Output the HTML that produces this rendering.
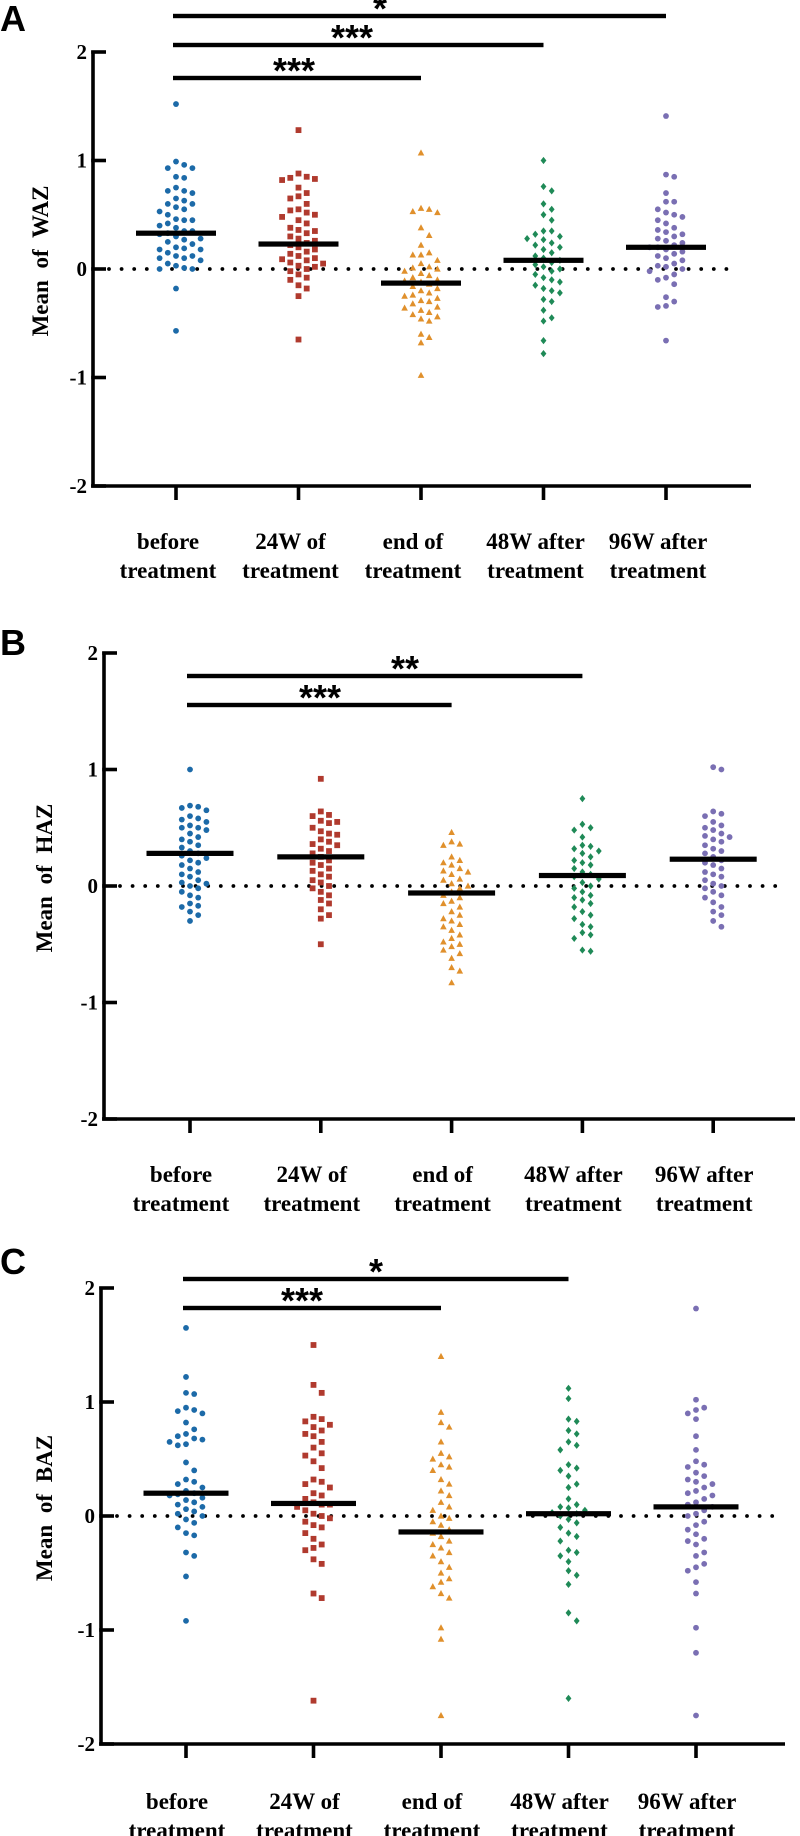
<!DOCTYPE html>
<html><head><meta charset="utf-8"><style>
html,body{margin:0;padding:0;background:#fff;}
svg{display:block;}
.tk{font-family:"Liberation Serif",serif;font-weight:bold;font-size:21px;}
.lbl{font-family:"Liberation Serif",serif;font-weight:bold;font-size:23px;}
.ttl{font-family:"Liberation Serif",serif;font-weight:bold;font-size:23px;word-spacing:6px;}
.pl{font-family:"Liberation Sans",sans-serif;font-weight:bold;font-size:36px;}
.st{font-family:"Liberation Sans",sans-serif;font-weight:bold;font-size:36px;}
</style></head><body>
<svg id="chart" width="800" height="1836" viewBox="0 0 800 1836" xmlns="http://www.w3.org/2000/svg"></svg>
<script>
const categories = ["before|treatment","24W of|treatment","end of|treatment","48W after|treatment","96W after|treatment"];
const yTicks = [2,1,0,-1,-2];
// Panel A: WAZ
const wazBefore = [1.52,0.99,0.96,0.93,0.93,0.85,0.84,0.75,0.72,0.72,0.70,0.65,0.63,0.60,0.60,0.57,0.55,0.53,0.50,0.46,0.45,0.45,0.42,0.40,0.38,0.35,0.35,0.33,0.32,0.30,0.28,0.27,0.25,0.23,0.20,0.19,0.18,0.18,0.15,0.12,0.12,0.10,0.10,0.08,0.05,0.03,0.01,0.0,0.0,-0.18,-0.57];
const waz24W = [1.28,0.88,0.85,0.84,0.83,0.82,0.75,0.70,0.67,0.65,0.60,0.55,0.54,0.52,0.50,0.48,0.45,0.42,0.38,0.36,0.35,0.33,0.30,0.28,0.26,0.24,0.22,0.20,0.18,0.16,0.14,0.12,0.10,0.09,0.08,0.06,0.05,0.03,0.02,0.0,-0.02,-0.05,-0.08,-0.10,-0.15,-0.18,-0.25,-0.65];
const wazEnd = [1.07,0.56,0.55,0.53,0.52,0.38,0.31,0.22,0.15,0.13,0.13,0.08,0.05,0.02,0.01,0.0,-0.02,-0.04,-0.06,-0.08,-0.10,-0.11,-0.12,-0.14,-0.16,-0.18,-0.20,-0.22,-0.24,-0.25,-0.27,-0.29,-0.30,-0.32,-0.35,-0.36,-0.38,-0.40,-0.42,-0.44,-0.46,-0.48,-0.60,-0.63,-0.68,-0.98];
const waz48W = [1.0,0.76,0.72,0.60,0.55,0.50,0.45,0.35,0.35,0.32,0.30,0.28,0.27,0.24,0.22,0.20,0.18,0.15,0.12,0.10,0.08,0.06,0.04,0.02,0.0,-0.02,-0.05,-0.08,-0.10,-0.12,-0.15,-0.18,-0.20,-0.22,-0.28,-0.30,-0.38,-0.45,-0.48,-0.66,-0.78];
const waz96W = [1.41,0.87,0.85,0.70,0.62,0.62,0.55,0.52,0.50,0.48,0.45,0.42,0.38,0.36,0.34,0.32,0.30,0.28,0.26,0.24,0.22,0.20,0.20,0.18,0.16,0.14,0.12,0.10,0.08,0.05,0.03,0.02,0.0,-0.02,-0.05,-0.08,-0.10,-0.14,-0.26,-0.30,-0.35,-0.34,-0.66];
const wazMeans = [0.33,0.23,-0.13,0.08,0.20];
// Panel B: HAZ
const hazBefore = [1.0,0.69,0.68,0.67,0.65,0.60,0.58,0.57,0.55,0.52,0.50,0.50,0.48,0.45,0.42,0.40,0.38,0.35,0.33,0.30,0.28,0.26,0.24,0.22,0.20,0.18,0.15,0.12,0.10,0.08,0.05,0.03,0.02,0.0,-0.02,-0.05,-0.08,-0.10,-0.15,-0.17,-0.18,-0.22,-0.25,-0.30];
const haz24W = [0.92,0.64,0.61,0.60,0.56,0.55,0.54,0.50,0.47,0.45,0.44,0.40,0.38,0.36,0.35,0.32,0.30,0.28,0.25,0.22,0.20,0.18,0.15,0.13,0.10,0.08,0.05,0.03,0.0,-0.02,-0.05,-0.08,-0.12,-0.15,-0.20,-0.25,-0.28,-0.50];
const hazEnd = [0.46,0.38,0.36,0.35,0.25,0.22,0.20,0.18,0.15,0.13,0.12,0.10,0.06,0.05,0.02,0.0,-0.02,-0.05,-0.08,-0.10,-0.13,-0.15,-0.18,-0.22,-0.25,-0.28,-0.30,-0.33,-0.35,-0.38,-0.42,-0.45,-0.48,-0.50,-0.52,-0.55,-0.58,-0.62,-0.70,-0.73,-0.83];
const haz48W = [0.75,0.53,0.50,0.48,0.42,0.35,0.34,0.32,0.30,0.28,0.25,0.22,0.20,0.18,0.15,0.12,0.10,0.08,0.06,0.03,0.0,-0.02,-0.05,-0.08,-0.10,-0.12,-0.15,-0.18,-0.22,-0.25,-0.28,-0.33,-0.35,-0.40,-0.42,-0.45,-0.55,-0.56];
const haz96W = [1.02,1.0,0.64,0.62,0.60,0.55,0.52,0.50,0.48,0.45,0.43,0.42,0.40,0.38,0.35,0.32,0.30,0.28,0.25,0.22,0.20,0.18,0.15,0.12,0.10,0.08,0.05,0.02,0.0,-0.02,-0.05,-0.08,-0.10,-0.14,-0.18,-0.22,-0.25,-0.30,-0.35];
const hazMeans = [0.28,0.25,-0.06,0.09,0.23];
// Panel C: BAZ
const bazBefore = [1.65,1.22,1.08,1.07,0.95,0.93,0.92,0.90,0.82,0.76,0.72,0.70,0.68,0.67,0.65,0.63,0.62,0.47,0.40,0.32,0.30,0.28,0.25,0.22,0.20,0.19,0.18,0.16,0.14,0.12,0.10,0.08,0.06,0.04,0.02,0.0,-0.03,-0.06,-0.10,-0.15,-0.17,-0.35,-0.32,-0.53,-0.92];
const baz24W = [1.5,1.15,1.08,0.87,0.85,0.83,0.80,0.78,0.75,0.72,0.70,0.65,0.60,0.55,0.53,0.48,0.42,0.32,0.30,0.28,0.25,0.20,0.18,0.15,0.12,0.10,0.10,0.08,0.05,0.02,0.0,-0.02,-0.05,-0.08,-0.10,-0.15,-0.20,-0.25,-0.28,-0.30,-0.38,-0.42,-0.68,-0.72,-1.62];
const bazEnd = [1.4,0.91,0.82,0.78,0.65,0.55,0.52,0.50,0.45,0.43,0.40,0.32,0.28,0.22,0.18,0.12,0.08,0.05,0.0,-0.02,-0.05,-0.08,-0.12,-0.15,-0.18,-0.22,-0.25,-0.28,-0.32,-0.35,-0.40,-0.45,-0.50,-0.55,-0.58,-0.62,-0.68,-0.72,-0.98,-1.08,-1.75];
const baz48W = [1.12,1.03,0.85,0.83,0.75,0.72,0.65,0.62,0.58,0.45,0.42,0.40,0.35,0.28,0.25,0.15,0.10,0.08,0.07,0.05,0.03,0.02,0.0,-0.03,-0.06,-0.10,-0.15,-0.18,-0.22,-0.30,-0.32,-0.35,-0.40,-0.48,-0.52,-0.60,-0.85,-0.92,-1.6];
const baz96W = [1.82,1.02,0.95,0.93,0.90,0.85,0.70,0.58,0.48,0.45,0.43,0.38,0.35,0.32,0.30,0.28,0.25,0.22,0.20,0.18,0.15,0.12,0.10,0.08,0.05,0.02,0.0,-0.05,-0.08,-0.12,-0.16,-0.20,-0.22,-0.25,-0.32,-0.35,-0.42,-0.45,-0.48,-0.58,-0.68,-0.98,-1.2,-1.75];
const bazMeans = [0.20,0.11,-0.14,0.02,0.08];

const NS = "http://www.w3.org/2000/svg";
const svg = document.getElementById("chart");
const colors = ["#1c6aa8","#b03a2e","#e0902c","#1f8a57","#7a6fb3"];
const shapes = ["circle","square","triangle","diamond","circle"];

function mk(tag, attrs, parent){
  const e = document.createElementNS(NS, tag);
  for (const k in attrs) e.setAttribute(k, attrs[k]);
  (parent||svg).appendChild(e);
  return e;
}

const panels = [
  {letter:"A", key:"waz", title:"Mean of WAZ", series:[wazBefore,waz24W,wazEnd,waz48W,waz96W], means:wazMeans,
   x0:93, yHi:52, yLo:486, xEnd:751, g0:176, gs:122.5, lab1:541, labShift:-8, mw:80, letterY:31, titleX:48,
   sig:[{to:4,y:16,t:"*",sx:380},{to:3,y:45,t:"***",sx:352},{to:2,y:78,t:"***",sx:294}]},
  {letter:"B", key:"haz", title:"Mean of HAZ", series:[hazBefore,haz24W,hazEnd,haz48W,haz96W], means:hazMeans,
   x0:104, yHi:653, yLo:1119, xEnd:795, g0:190, gs:130.8, lab1:1174, labShift:-9, mw:87, letterY:655, titleX:52,
   sig:[{to:3,y:676,t:"**",sx:405},{to:2,y:705,t:"***",sx:320}]},
  {letter:"C", key:"baz", title:"Mean of BAZ", series:[bazBefore,baz24W,bazEnd,baz48W,baz96W], means:bazMeans,
   x0:101, yHi:1288, yLo:1744, xEnd:785, g0:186, gs:127.5, lab1:1801, labShift:-9, mw:85, letterY:1274, titleX:52,
   sig:[{to:3,y:1279,t:"*",sx:376},{to:2,y:1308,t:"***",sx:302}]}
];

function marker(g, shape, cx, cy, col){
  let e;
  if (shape==="circle") e = mk("circle",{cx:cx,cy:cy,r:2.9,fill:col},g);
  else if (shape==="square") e = mk("rect",{x:cx-2.9,y:cy-2.9,width:5.8,height:5.8,fill:col},g);
  else if (shape==="triangle") e = mk("polygon",{points:`${cx},${cy-3.5} ${cx+3.3},${cy+2.6} ${cx-3.3},${cy+2.6}`,fill:col},g);
  else e = mk("polygon",{points:`${cx},${cy-3.6} ${cx+2.9},${cy} ${cx},${cy+3.6} ${cx-2.9},${cy}`,fill:col},g);
  return e;
}

panels.forEach(p=>{
  const pg = mk("g",{});
  
  
  const yS = v => p.yHi + (2 - v) * (p.yLo - p.yHi) / 4;
  const xS = i => p.g0 + i * p.gs;

  const lt = mk("text",{x:0,y:p.letterY,class:"pl"},pg); lt.textContent = p.letter;
  
  

  const cy = (p.yHi+p.yLo)/2 - 8;
  const tt = mk("text",{x:p.titleX,y:cy,class:"ttl","text-anchor":"middle",transform:`rotate(-90 ${p.titleX} ${cy})`},pg);
  tt.textContent = p.title;
  
  

  const zl = mk("line",{x1:p.x0+16,x2:p.xEnd-12,y1:yS(0),y2:yS(0),stroke:"#000","stroke-width":3.8,"stroke-linecap":"round","stroke-dasharray":"0 12.6"},pg);
  
  

  const ya = mk("line",{x1:p.x0,x2:p.x0,y1:p.yHi-1.5,y2:p.yLo+1.5,stroke:"#000","stroke-width":3.6},pg);
  
  
  const xa = mk("line",{x1:p.x0-1.8,x2:p.xEnd,y1:p.yLo,y2:p.yLo,stroke:"#000","stroke-width":3.6},pg);
  
  

  yTicks.forEach(v=>{
    const t = mk("line",{x1:p.x0-1.8,x2:p.x0+13,y1:yS(v),y2:yS(v),stroke:"#000","stroke-width":3.6},pg);
    
    
    const tl = mk("text",{x:p.x0-6,y:yS(v)+7,class:"tk","text-anchor":"end"},pg);
    tl.textContent = v<0 ? "-"+Math.abs(v) : String(v);
    
    
  });

  categories.forEach((c,i)=>{
    const t = mk("line",{x1:xS(i),x2:xS(i),y1:p.yLo,y2:p.yLo+14,stroke:"#000","stroke-width":3.6},pg);
    
    
    const parts = c.split("|");
    const tx = mk("text",{x:xS(i)+p.labShift,y:p.lab1+8,class:"lbl","text-anchor":"middle"},pg);
    
    
    parts.forEach((s,k)=>{
      const ts = mk("tspan",{x:xS(i)+p.labShift,dy:k?29:0},tx); ts.textContent = s;
    });
  });

  p.series.forEach((vals,i)=>{
    const g = mk("g",{},pg);
    
    
    const placed = [];
    const sorted = vals.slice().sort((a,b)=>b-a);
    const d = 8.2;
    sorted.forEach(v=>{
      const py = yS(v);
      let off = 0;
      for (let k=0;k<30;k++){
        const cand = k===0?0:(k%2? Math.ceil(k/2)*d : -Math.ceil(k/2)*d);
        const ok = placed.every(q=> Math.hypot(q[0]-cand,q[1]-py) >= 8);
        if (ok){ off = cand; break; }
      }
      placed.push([off,py]);
      const m = marker(g, shapes[i], xS(i)+off, py, colors[i]);
      
      
    });
  });

  p.means.forEach((m,i)=>{
    const r = mk("rect",{x:xS(i)-p.mw/2,y:yS(m)-2.6,width:p.mw,height:5.2,fill:"#000"},pg);
    
    
  });

  p.sig.forEach(s=>{
    const b = mk("rect",{x:xS(0)-3,y:s.y-2.2,width:xS(s.to)-xS(0)+3,height:4.4,fill:"#000"},pg);
    
    
    const st = mk("text",{x:s.sx,y:s.y+5,class:"st","text-anchor":"middle"},pg);
    st.textContent = s.t;
    
    
  });
});
</script>
</body></html>
